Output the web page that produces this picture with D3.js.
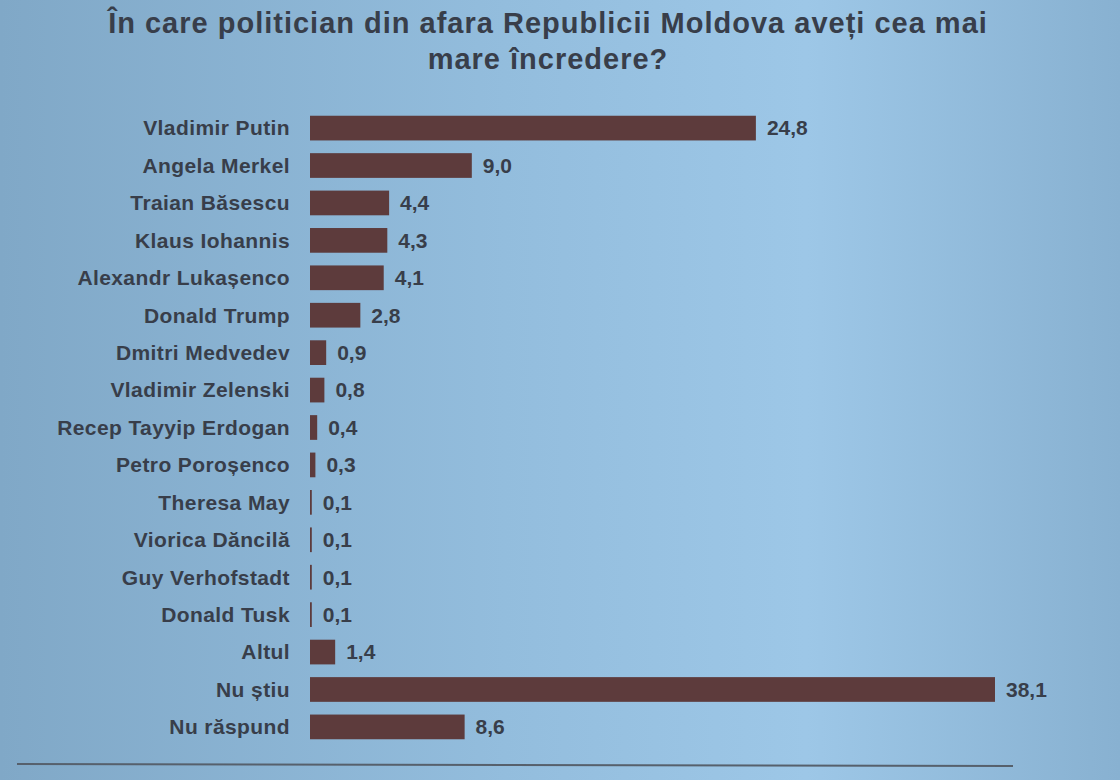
<!DOCTYPE html>
<html>
<head>
<meta charset="utf-8">
<script src="https://cdnjs.cloudflare.com/ajax/libs/d3/7.8.5/d3.min.js"></script>
<style>
  html, body { margin: 0; padding: 0; }
  body { width: 1120px; height: 780px; overflow: hidden; }
</style>
</head>
<body>
<div id="chart"></div>
<script>
var width = 1120;
var height = 780;

var titleLines = ["În care politician din afara Republicii Moldova aveți cea mai", "mare încredere?"];

var names = [
  "Vladimir Putin", "Angela Merkel", "Traian Băsescu", "Klaus Iohannis",
  "Alexandr Lukașenco", "Donald Trump", "Dmitri Medvedev", "Vladimir Zelenski",
  "Recep Tayyip Erdogan", "Petro Poroșenco", "Theresa May", "Viorica Dăncilă",
  "Guy Verhofstadt", "Donald Tusk", "Altul", "Nu știu", "Nu răspund"
];
var values = [24.8, 9.0, 4.4, 4.3, 4.1, 2.8, 0.9, 0.8, 0.4, 0.3, 0.1, 0.1, 0.1, 0.1, 1.4, 38.1, 8.6];

var barColor = "#5d3b3c";
var textColor = "#383e4a";
var font = "'Liberation Sans', Arial, sans-serif";

var svg = d3.select("#chart")
  .append("svg")
    .attr("width", width)
    .attr("height", height);

// projected-slide background
var grad = svg.append("defs")
  .append("linearGradient")
    .attr("id", "bg")
    .attr("x1", "0%").attr("x2", "100%")
    .attr("y1", "0%").attr("y2", "0%");
grad.append("stop").attr("offset", "0%").attr("stop-color", "#80a8c7");
grad.append("stop").attr("offset", "45%").attr("stop-color", "#93bddd");
grad.append("stop").attr("offset", "72%").attr("stop-color", "#9dc7e7");
grad.append("stop").attr("offset", "100%").attr("stop-color", "#88b1d1");

svg.append("rect")
  .attr("width", width)
  .attr("height", height)
  .attr("fill", "url(#bg)");

// title
svg.append("g")
  .selectAll("text")
  .data(titleLines)
  .enter().append("text")
    .attr("x", 548)
    .attr("y", function(d, i) { return 33 + i * 36; })
    .attr("text-anchor", "middle")
    .style("font-family", font)
    .style("font-weight", "bold")
    .style("font-size", "29px")
    .style("letter-spacing", "1px")
    .attr("fill", textColor)
    .text(function(d) { return d; });

var x = d3.scaleLinear()
  .domain([0, 38.1])
  .range([310, 995]);

var y = d3.scaleBand()
  .domain(names)
  .range([112, 743])
  .paddingInner(0.34)
  .paddingOuter(0.1);

// category labels
svg.append("g")
  .selectAll("text")
  .data(names)
  .enter().append("text")
    .attr("x", 290)
    .attr("y", function(d) { return y(d) + y.bandwidth() / 2; })
    .attr("dy", "0.35em")
    .attr("text-anchor", "end")
    .style("font-family", font)
    .style("font-weight", "bold")
    .style("font-size", "21px")
    .style("letter-spacing", "0.4px")
    .attr("fill", textColor)
    .text(function(d) { return d; });

var rows = names.map(function(n, i) { return { name: n, value: values[i] }; });

svg.append("g")
  .selectAll("rect")
  .data(rows)
  .enter().append("rect")
    .attr("x", x(0))
    .attr("y", function(d) { return y(d.name); })
    .attr("width", function(d) { return x(d.value) - x(0); })
    .attr("height", y.bandwidth())
    .attr("fill", barColor);

// value labels (comma decimal)
svg.append("g")
  .selectAll("text")
  .data(rows)
  .enter().append("text")
    .attr("x", function(d) { return x(d.value) + 11; })
    .attr("y", function(d) { return y(d.name) + y.bandwidth() / 2; })
    .attr("dy", "0.35em")
    .style("font-family", font)
    .style("font-weight", "bold")
    .style("font-size", "21px")
    .attr("fill", textColor)
    .text(function(d) { return d3.format(".1f")(d.value).replace(".", ","); });

// bottom rule
svg.append("line")
  .attr("x1", 17).attr("y1", 764)
  .attr("x2", 1013).attr("y2", 766)
  .attr("stroke", "#56606c")
  .attr("stroke-width", 2);
</script>
</body>
</html>
